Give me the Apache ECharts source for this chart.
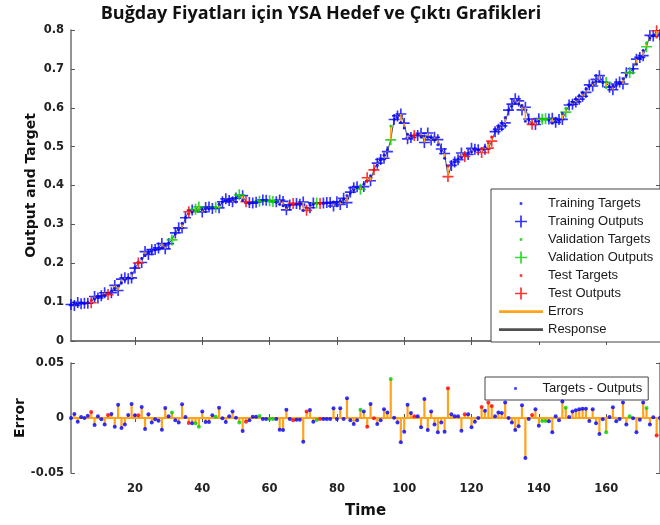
<!DOCTYPE html>
<html lang="tr">
<head>
<meta charset="UTF-8">
<script src="https://cdn.jsdelivr.net/npm/echarts@6/dist/echarts.min.js"></script>
<style>html,body{margin:0;padding:0;background:#fff}</style>
</head>
<body>
<div id="main" style="width:660px;height:525px;"></div>
<script>
// targets, t = 1..176
var targets = [
  0.094,0.095,0.096,0.097,0.097,0.099,0.104,0.108,0.112,0.115,
  0.118,0.122,0.128,0.135,0.142,0.150,0.157,0.163,0.175,0.190,
  0.203,0.212,0.220,0.226,0.231,0.234,0.237,0.240,0.246,0.252,
  0.265,0.276,0.287,0.303,0.318,0.328,0.332,0.334,0.337,0.338,
  0.340,0.341,0.343,0.345,0.352,0.358,0.362,0.363,0.364,0.368,
  0.372,0.362,0.355,0.354,0.356,0.358,0.361,0.362,0.361,0.360,
  0.358,0.357,0.352,0.348,0.345,0.349,0.352,0.352,0.350,0.336,
  0.342,0.350,0.352,0.353,0.353,0.354,0.355,0.355,0.356,0.357,
  0.360,0.366,0.374,0.381,0.389,0.395,0.398,0.403,0.412,0.425,
  0.440,0.452,0.465,0.478,0.492,0.553,0.570,0.575,0.562,0.548,
  0.532,0.528,0.530,0.530,0.526,0.528,0.524,0.523,0.518,0.505,
  0.490,0.470,0.450,0.455,0.462,0.468,0.472,0.478,0.483,0.487,
  0.490,0.492,0.495,0.500,0.510,0.525,0.540,0.550,0.558,0.575,
  0.594,0.605,0.612,0.610,0.606,0.565,0.570,0.560,0.565,0.565,
  0.568,0.569,0.568,0.560,0.564,0.568,0.585,0.598,0.608,0.615,
  0.622,0.630,0.638,0.648,0.656,0.664,0.668,0.668,0.665,0.652,
  0.654,0.656,0.658,0.665,0.675,0.684,0.692,0.700,0.712,0.728,
  0.748,0.766,0.780,0.785,0.782,0.788
];
// errors = targets - outputs
var errors = [
  0.0000,0.0036,-0.0033,0.0010,0.0000,0.0020,0.0055,-0.0064,0.0015,-0.0012,
  -0.0060,0.0027,0.0036,-0.0080,0.0120,-0.0090,-0.0058,0.0027,0.0127,0.0024,
  0.0024,0.0100,-0.0100,0.0033,-0.0040,-0.0012,-0.0024,-0.0106,0.0090,0.0015,
  0.0050,-0.0020,-0.0040,0.0124,0.0010,-0.0045,-0.0048,-0.0048,-0.0080,0.0060,
  -0.0036,-0.0036,0.0024,0.0012,0.0094,-0.0003,-0.0036,0.0015,0.0060,0.0003,
  -0.0040,-0.0118,-0.0033,-0.0020,0.0012,0.0012,0.0018,-0.0010,-0.0010,-0.0010,
  -0.0010,-0.0010,-0.0106,-0.0110,0.0076,-0.0010,-0.0020,-0.0015,-0.0015,-0.0215,
  0.0058,0.0073,-0.0033,-0.0018,-0.0010,-0.0010,-0.0010,-0.0010,0.0088,-0.0010,
  0.0088,-0.0010,0.0180,-0.0020,-0.0055,-0.0020,0.0076,0.0058,-0.0080,0.0127,
  -0.0003,-0.0055,-0.0020,0.0080,0.0050,0.0355,0.0003,-0.0040,-0.0220,-0.0124,
  0.0120,0.0045,0.0015,0.0015,-0.0085,0.0173,-0.0110,0.0058,-0.0060,-0.0130,
  -0.0040,-0.0124,0.0270,0.0033,0.0015,0.0015,-0.0115,0.0033,0.0033,-0.0085,
  -0.0033,0.0000,0.0100,0.0067,0.0140,0.0110,0.0015,0.0050,0.0045,0.0140,
  0.0000,-0.0042,-0.0110,-0.0076,0.0115,-0.0364,-0.0010,0.0027,0.0080,-0.0070,
  -0.0027,-0.0027,-0.0030,-0.0130,0.0015,-0.0020,0.0150,0.0094,0.0010,0.0060,
  0.0070,0.0080,0.0085,0.0085,-0.0027,0.0080,-0.0048,-0.0145,-0.0012,-0.0130,
  0.0010,0.0097,-0.0030,-0.0010,0.0140,-0.0060,0.0015,-0.0003,-0.0130,-0.0015,
  0.0140,0.0090,-0.0060,0.0006,-0.0160,0.0000
];
var valIdx = [31,38,39,44,51,57,60,61,74,87,96,141,142,148,160,167,172];
var testIdx = [7,12,21,36,53,67,71,75,89,91,103,113,118,123,125,126,138,175];
var xTicks = [20,40,60,80,100,120,140,160];

var BLUE = '#0000ff', GREEN = '#00d000', RED = '#ff0000', ORANGE = '#ffa31a', RESP = '#505050';
var DOT = 'path://M0,0M12,12M4.8,4.8h2.4v2.4h-2.4z';
var PLUS = 'path://M5.1,0h1.8v5.1h5.1v1.8h-5.1v5.1h-1.8v-5.1h-5.1v-1.8h5.1z';
var PLUS_L = 'path://M0,0M12,12M5.2,0.5h1.6v4.7h4.7v1.6h-4.7v4.7h-1.6v-4.7h-4.7v-1.6h4.7z';
var LINE = 'path://M0,0M44,12M0,4.8h44v2.6h-44z';

function setOf(t) {
  if (valIdx.indexOf(t) >= 0) return 'val';
  if (testIdx.indexOf(t) >= 0) return 'test';
  return 'train';
}
var colorOf = { train: BLUE, val: GREEN, test: RED };

var tgt = { train: [], val: [], test: [] };
var out = { train: [], val: [], test: [] };
var errRows = [], respRows = [], stemRows = [], errDots = [];
for (var i = 0; i < targets.length; i++) {
  var t = i + 1, s = setOf(t);
  var o = +(targets[i] - errors[i]).toFixed(4);
  tgt[s].push([t, targets[i]]);
  out[s].push([t, o]);
  errRows.push([t, targets[i], o]);
  respRows.push([t, o]);
  stemRows.push([t, errors[i]]);
  errDots.push({ value: [t, errors[i]], itemStyle: { color: colorOf[s] } });
}

function segLine(api, y0, y1, w) {
  var a = api.coord([api.value(0), y0]);
  var b = api.coord([api.value(0), y1]);
  return { type: 'line', shape: { x1: a[0], y1: a[1], x2: b[0], y2: b[1] },
           style: { stroke: ORANGE, lineWidth: w } };
}

var axisLine = { show: true, lineStyle: { color: '#707070', width: 1.5 } };
var tickFont = { fontFamily: 'DejaVu Sans', fontWeight: 'bold', fontSize: 11.5, color: '#222' };
var nameFont = { fontFamily: 'DejaVu Sans', fontWeight: 'bold', fontSize: 14, color: '#111' };

function xAx(grid, pos, labels, name) {
  var ax = {
    type: 'value', gridIndex: grid, position: pos, min: 1, max: 176,
    axisLine: axisLine, splitLine: { show: false },
    axisTick: { show: true, inside: true, length: 4, customValues: xTicks, lineStyle: { color: '#555' } },
    axisLabel: labels ? Object.assign({ show: true, margin: 10, customValues: xTicks }, tickFont) : { show: false }
  };
  if (name) {
    ax.name = name; ax.nameLocation = 'middle'; ax.nameGap = 31;
    ax.nameTextStyle = Object.assign({}, nameFont, { fontSize: 15 });
  }
  return ax;
}
function yAx(grid, pos, min, max, interval, name, gap) {
  var ax = {
    type: 'value', gridIndex: grid, position: pos, min: min, max: max, interval: interval,
    axisLine: axisLine, splitLine: { show: false },
    axisTick: { show: true, inside: true, length: 4, lineStyle: { color: '#555' } },
    axisLabel: name ? Object.assign({ show: true, margin: 7 }, tickFont) : { show: false }
  };
  if (name) {
    ax.name = name; ax.nameLocation = 'middle'; ax.nameGap = gap; ax.nameTextStyle = nameFont;
    ax.nameMoveOverlap = false;
  }
  return ax;
}

function scat(name, data, color, sym, size, z) {
  return { name: name, type: 'scatter', xAxisIndex: 0, yAxisIndex: 0, data: data,
           symbol: sym, symbolSize: size, itemStyle: { color: color }, z: z, silent: true };
}

var legendText = { fontFamily: 'Liberation Sans', fontSize: 13, color: '#1a1a1a', lineHeight: 12 };

var chart = echarts.init(document.getElementById('main'));
chart.setOption({
  animation: false,
  title: {
    text: 'Buğday Fiyatları için YSA Hedef ve Çıktı Grafikleri',
    left: 316, top: 0, textAlign: 'center',
    textStyle: { fontFamily: 'Open Sans', fontWeight: 'bold', fontSize: 18, color: '#111' }
  },
  grid: [
    { left: 71, top: 30, width: 589, height: 311 },
    { left: 71, top: 363, width: 589, height: 110 }
  ],
  legend: [{
    left: 491, top: 189, orient: 'vertical',
    padding: [8, 10, 6, 8], itemGap: 5, itemWidth: 44, itemHeight: 13,
    backgroundColor: '#fff', borderColor: '#444', borderWidth: 1,
    textStyle: legendText,
    data: [
      { name: 'Training Targets', icon: DOT },
      { name: 'Training Outputs', icon: PLUS_L },
      { name: 'Validation Targets', icon: DOT },
      { name: 'Validation Outputs', icon: PLUS_L },
      { name: 'Test Targets', icon: DOT },
      { name: 'Test Outputs', icon: PLUS_L },
      { name: 'Errors', icon: LINE },
      { name: 'Response', icon: LINE }
    ]
  }, {
    left: 485, top: 377, orient: 'vertical',
    padding: [5, 6, 5, 24], itemWidth: 44, itemHeight: 13,
    backgroundColor: '#fff', borderColor: '#444', borderWidth: 1,
    textStyle: legendText,
    data: [{ name: 'Targets - Outputs', icon: DOT }]
  }],
  xAxis: [xAx(0, 'bottom', false), xAx(0, 'top', false), xAx(1, 'bottom', true, 'Time'), xAx(1, 'top', false)],
  yAxis: [
    yAx(0, 'left', 0, 0.8, 0.1, 'Output and Target', 33),
    yAx(0, 'right', 0, 0.8, 0.1, null),
    yAx(1, 'left', -0.05, 0.05, 0.05, 'Error', 44),
    yAx(1, 'right', -0.05, 0.05, 0.05, null)
  ],
  series: [
    {
      name: 'Response', type: 'line', xAxisIndex: 0, yAxisIndex: 0, data: respRows,
      showSymbol: false, symbol: 'none', itemStyle: { color: RESP },
      lineStyle: { color: RESP, width: 1 }, z: 2, silent: true
    },
    scat('Training Outputs', out.train, BLUE, PLUS, 11, 3),
    scat('Validation Outputs', out.val, GREEN, PLUS, 11, 3),
    scat('Test Outputs', out.test, RED, PLUS, 11, 3),
    {
      name: 'Errors', type: 'custom', xAxisIndex: 0, yAxisIndex: 0, data: errRows,
      encode: { x: 0, y: [1, 2] }, itemStyle: { color: ORANGE }, z: 4, silent: true,
      renderItem: function (p, api) { return segLine(api, api.value(1), api.value(2), 1.5); }
    },
    scat('Training Targets', tgt.train, BLUE, 'circle', 3, 5),
    scat('Validation Targets', tgt.val, GREEN, 'circle', 3, 5),
    scat('Test Targets', tgt.test, RED, 'circle', 3, 5),
    {
      name: 'zero', type: 'line', xAxisIndex: 2, yAxisIndex: 2, data: [[1, 0], [176, 0]],
      showSymbol: false, lineStyle: { color: ORANGE, width: 2 }, z: 2, silent: true
    },
    {
      name: 'stems', type: 'custom', xAxisIndex: 2, yAxisIndex: 2, data: stemRows,
      encode: { x: 0, y: 1 }, z: 3, silent: true,
      renderItem: function (p, api) { return segLine(api, 0, api.value(1), 2.2); }
    },
    {
      name: 'Targets - Outputs', type: 'scatter', xAxisIndex: 2, yAxisIndex: 2, data: errDots,
      symbol: 'circle', symbolSize: 4, itemStyle: { color: BLUE }, z: 4, silent: true
    }
  ]
});
</script>
</body>
</html>
